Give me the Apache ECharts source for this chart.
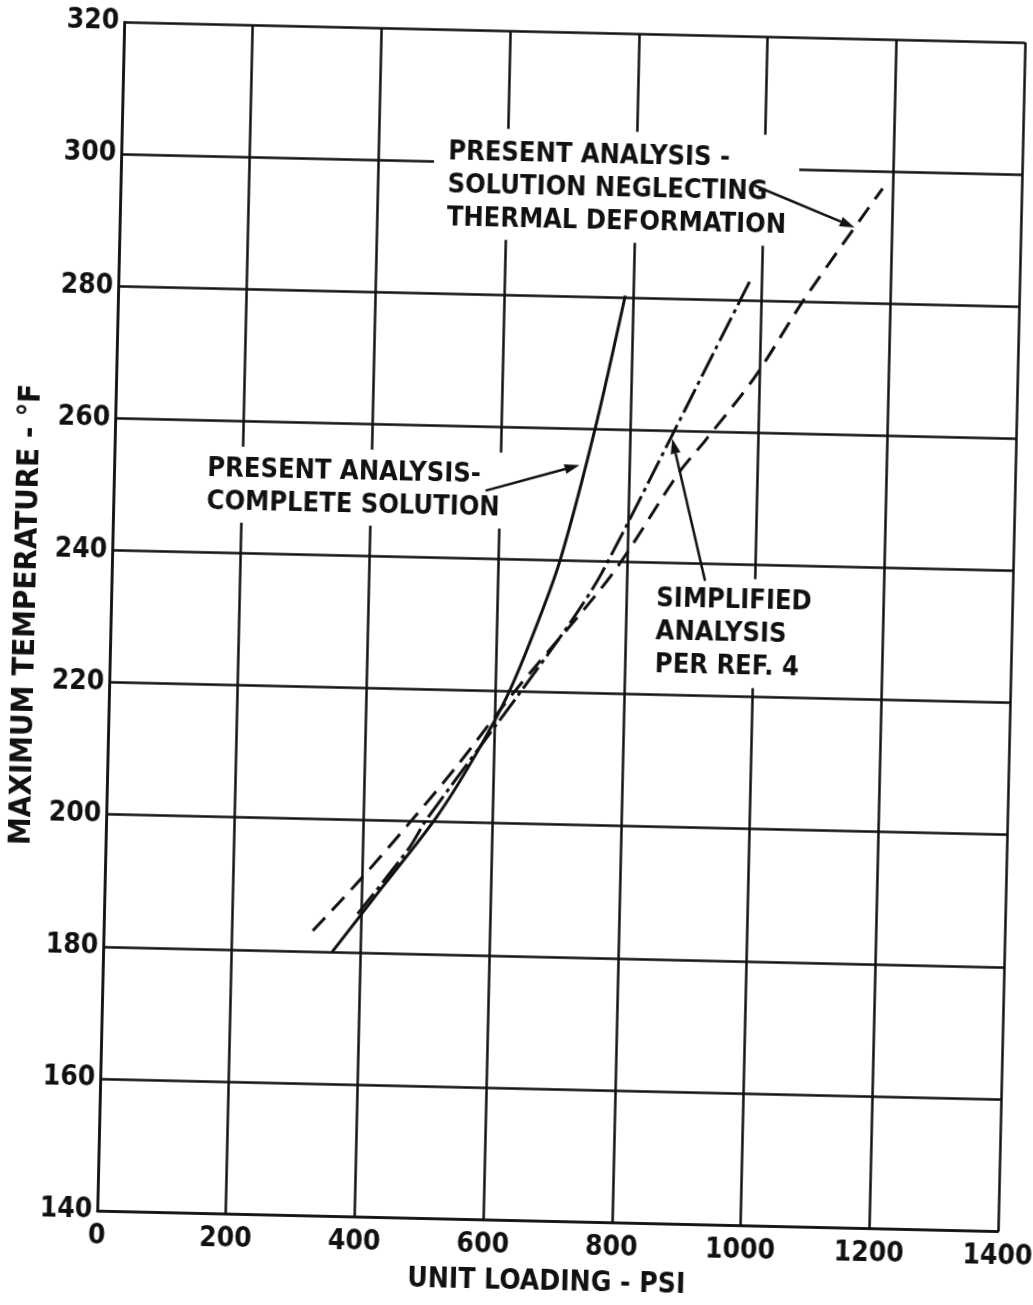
<!DOCTYPE html>
<html>
<head>
<meta charset="utf-8">
<title>Maximum Temperature vs Unit Loading</title>
<script src="https://cdn.jsdelivr.net/npm/echarts@6/dist/echarts.min.js"></script>
<style>
  html, body { margin: 0; padding: 0; background: #fff; overflow: hidden; width: 1033px; height: 1305px; }
  #chart { width: 1100px; height: 1305px; transform: rotate(1.3deg); transform-origin: 516.5px 652.5px; }
</style>
</head>
<body>
<div id="chart"></div>
<script>
// Axis ranges and tick values
const xTicks = [0, 200, 400, 600, 800, 1000, 1200, 1400];
const yTicks = [140, 160, 180, 200, 220, 240, 260, 280, 300, 320];

// Present analysis - complete solution (solid)
const completeLoading = [356, 432, 513, 570, 621, 665, 697, 746, 788];
const completeTemp    = [180, 190, 200.7, 210, 219.8, 230.9, 240.3, 260.1, 280.3];

// Simplified analysis per Ref. 4 (dash-dot)
const simplifiedLoading = [394, 472, 497, 641, 716, 761, 871, 929, 983];
const simplifiedTemp    = [185.8, 196, 200.2, 220.2, 230.9, 238.2, 260.4, 272.3, 283.3];

// Present analysis - solution neglecting thermal deformation (dashed)
const neglectLoading = [325, 396, 471, 546, 630, 776, 877, 917, 992, 1067, 1184];
const neglectTemp    = [183.1, 190.9, 199.7, 208.9, 220, 237.9, 253.6, 258.6, 268.4, 280.5, 297.4];

const pairs = (xs, ys) => xs.map((x, i) => [x, ys[i]]);

const FONT = '"DejaVu Sans Condensed", "Liberation Sans Narrow", "Liberation Sans", sans-serif';
const INK = '#111';

const chart = echarts.init(document.getElementById('chart'), null, { renderer: 'canvas' });

const gridLine = { color: INK, width: 2.5 };
const tickFont = { fontFamily: FONT, fontWeight: 'bold', fontSize: 28, color: INK };

chart.setOption({
  backgroundColor: '#fff',
  animation: false,
  grid: { left: 110, right: 89, top: 31, bottom: 85, containLabel: false, outerBoundsMode: 'none' },
  xAxis: {
    type: 'value',
    min: xTicks[0], max: xTicks[xTicks.length - 1], interval: 200,
    name: 'UNIT LOADING - PSI',
    nameLocation: 'middle', nameGap: 48,
    nameTextStyle: { fontFamily: FONT, fontWeight: 'bold', fontSize: 28, color: INK },
    axisLine: { show: true, lineStyle: gridLine },
    axisTick: { show: false },
    splitLine: { show: true, lineStyle: gridLine },
    axisLabel: Object.assign({ margin: 12, formatter: (v) => String(v) }, tickFont)
  },
  yAxis: {
    type: 'value',
    min: yTicks[0], max: yTicks[yTicks.length - 1], interval: 20,
    name: 'MAXIMUM TEMPERATURE - °F',
    nameLocation: 'middle', nameGap: 64, nameRotate: 90,
    nameTextStyle: { fontFamily: FONT, fontWeight: 'bold', fontSize: 31, color: INK },
    axisLine: { show: true, lineStyle: gridLine },
    axisTick: { show: false },
    splitLine: { show: true, lineStyle: gridLine },
    axisLabel: Object.assign({ margin: 5, formatter: (v) => String(v) }, tickFont)
  },
  series: [
    {
      name: 'PRESENT ANALYSIS - COMPLETE SOLUTION',
      type: 'line', data: pairs(completeLoading, completeTemp),
      smooth: 0.3, showSymbol: false, z: 5,
      lineStyle: { color: INK, width: 3 }
    },
    {
      name: 'SIMPLIFIED ANALYSIS PER REF. 4',
      type: 'line', data: pairs(simplifiedLoading, simplifiedTemp),
      smooth: 0.3, showSymbol: false, z: 5,
      lineStyle: { color: INK, width: 3, type: [26, 5, 4, 5] }
    },
    {
      name: 'PRESENT ANALYSIS - SOLUTION NEGLECTING THERMAL DEFORMATION',
      type: 'line', data: pairs(neglectLoading, neglectTemp),
      smooth: 0.3, showSymbol: false, z: 5,
      lineStyle: { color: INK, width: 3, type: [18, 10] }
    }
  ]
});

// Annotation labels with leader arrows, anchored in data coordinates
const px = (p) => chart.convertToPixel({ gridIndex: 0 }, p);
const textFont = 'bold 27px ' + FONT;

function label(anchor, text, pad) {
  const [x, y] = px(anchor);
  return {
    type: 'text', x: x - pad[3], y: y - 6 - pad[0], z: 20,
    style: {
      text: text, font: textFont, fill: INK, lineHeight: 33,
      backgroundColor: '#fff', padding: pad
    }
  };
}

function arrow(from, to) {
  const [x1, y1] = px(from);
  const [x2, y2] = px(to);
  const ang = Math.atan2(y2 - y1, x2 - x1);
  const len = 15, half = 5;
  const bx = x2 - len * Math.cos(ang), by = y2 - len * Math.sin(ang);
  const nx = -Math.sin(ang) * half, ny = Math.cos(ang) * half;
  return [
    { type: 'line', z: 21, shape: { x1, y1, x2: bx, y2: by }, style: { stroke: INK, lineWidth: 2.5 } },
    { type: 'polygon', z: 21, shape: { points: [[x2, y2], [bx + nx, by + ny], [bx - nx, by - ny]] }, style: { fill: INK } }
  ];
}

chart.setOption({
  graphic: [
    label([508, 303], 'PRESENT ANALYSIS -\nSOLUTION NEGLECTING\nTHERMAL DEFORMATION', [8, 12, 4, 14]),
    label([145, 254.3], 'PRESENT ANALYSIS-\nCOMPLETE SOLUTION', [6, 6, 4, 10]),
    label([847, 236], 'SIMPLIFIED\nANALYSIS\nPER REF. 4', [6, 8, 4, 6]),
    ...arrow([985, 297.4], [1142, 291.4]),
    ...arrow([578, 250.3], [723, 254.5]),
    ...arrow([922, 237.4], [866, 258.8])
  ]
});
</script>
</body>
</html>
